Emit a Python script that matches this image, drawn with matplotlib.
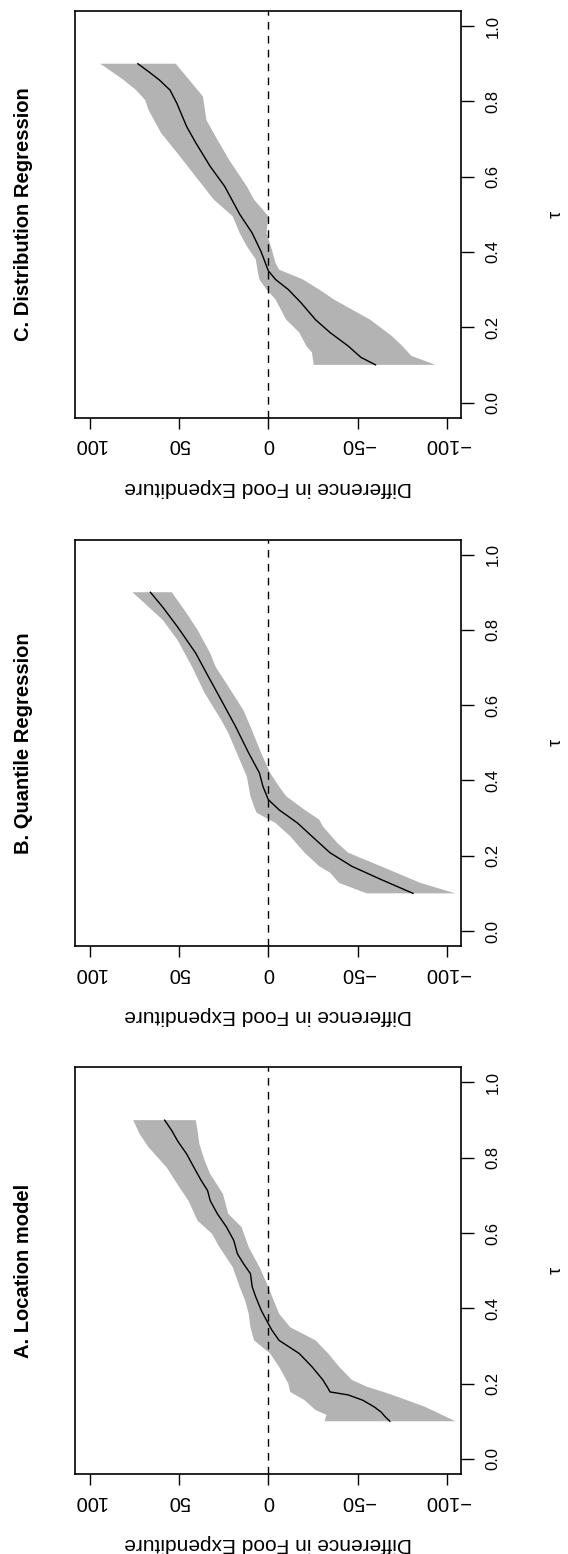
import numpy as np
import matplotlib
matplotlib.use('Agg')
import matplotlib.pyplot as plt

plt.rcParams['font.family'] = ['Liberation Sans', 'DejaVu Sans']

# quantile grid and estimates (difference in food expenditure)
A_tau_mid = [0.100, 0.112, 0.125, 0.139, 0.156, 0.170, 0.178, 0.187, 0.210, 0.245, 0.280,
             0.315, 0.342, 0.368, 0.395, 0.430, 0.457, 0.492, 0.518, 0.545, 0.580, 0.616,
             0.651, 0.686, 0.713, 0.740, 0.775, 0.810, 0.845, 0.872, 0.900]
A_mid = [-68, -65.4, -63, -59, -52.8, -44.7, -34.5, -33.5, -30.5, -24.4, -17.3,
         -6, -2, 1, 4, 7, 9, 10, 13.8, 17.3, 19.3, 23.4,
         28.5, 32.5, 34, 37.6, 41.7, 45.7, 50.8, 54, 58]
A_tau_hi = [0.100, 0.117, 0.130, 0.156, 0.178, 0.200, 0.245, 0.280, 0.315, 0.350, 0.386,
            0.421, 0.457, 0.510, 0.563, 0.598, 0.633, 0.686, 0.722, 0.775, 0.828, 0.863, 0.900]
A_hi = [-31.5, -32.5, -26.4, -20.3, -12.2, -11.2, -6, -1, 8, 10, 11,
        13, 16, 20, 27.4, 31.5, 39.6, 44.7, 49.8, 57, 67, 72, 75.6]
A_tau_lo = [0.100, 0.139, 0.174, 0.192, 0.210, 0.245, 0.280, 0.315, 0.350, 0.386, 0.421,
            0.457, 0.510, 0.563, 0.616, 0.651, 0.704, 0.757, 0.792, 0.837, 0.872, 0.900]
A_lo = [-104.7, -87.4, -67, -55, -46.7, -39.6, -33.5, -26.4, -12.2, -6, -3,
        0, 5, 11, 15, 22.4, 25.4, 32.5, 35.6, 38.6, 39.6, 40.6]

B_tau_mid = [0.100, 0.137, 0.172, 0.208, 0.243, 0.287, 0.322, 0.349, 0.384, 0.420, 0.473,
             0.543, 0.614, 0.685, 0.738, 0.808, 0.860, 0.900]
B_mid = [-81, -63, -46.7, -34.5, -26.4, -16.3, -6, 0, 3, 5, 11,
         18.3, 26.4, 34.6, 40.6, 50.8, 59, 66]
B_tau_hi = [0.100, 0.128, 0.155, 0.172, 0.208, 0.252, 0.287, 0.314, 0.331, 0.358, 0.384,
            0.410, 0.455, 0.526, 0.561, 0.632, 0.702, 0.773, 0.826, 0.861, 0.900]
B_hi = [-55, -39.6, -34.5, -28.5, -20.3, -12.2, -4, 6.5, 8, 10, 11,
        12, 16, 22.4, 26.4, 35.6, 42.7, 50.8, 59, 67, 76]
B_tau_lo = [0.100, 0.128, 0.172, 0.208, 0.234, 0.278, 0.296, 0.322, 0.358, 0.384, 0.420,
            0.473, 0.543, 0.587, 0.650, 0.702, 0.738, 0.800, 0.844, 0.900]
B_lo = [-104.7, -85, -63, -44.7, -38.6, -30.5, -28.5, -20.3, -10, -6, -1,
        4, 10, 14, 22.4, 29.5, 32.5, 39.6, 45.7, 54]

C_tau_mid = [0.100, 0.120, 0.150, 0.186, 0.220, 0.265, 0.300, 0.327, 0.350, 0.400, 0.450,
             0.500, 0.574, 0.627, 0.690, 0.733, 0.795, 0.830, 0.857, 0.879, 0.900]
C_mid = [-60, -51.8, -44.7, -34.5, -26.4, -18.3, -11.2, -4, 0, 4, 9,
         16, 24.4, 32.5, 40.6, 45.7, 51.2, 55, 61, 67, 73]
C_tau_hi = [0.100, 0.133, 0.150, 0.186, 0.220, 0.274, 0.300, 0.327, 0.350, 0.380, 0.415,
            0.450, 0.495, 0.539, 0.600, 0.662, 0.716, 0.777, 0.804, 0.830, 0.857, 0.900]
C_hi = [-25.4, -24.4, -21.3, -17.3, -10, -4, 1, 5, 6, 7, 12,
        16, 20, 30.5, 40.6, 50.8, 60, 67, 69, 74, 81, 94]
C_tau_lo = [0.100, 0.124, 0.150, 0.177, 0.220, 0.247, 0.274, 0.300, 0.327, 0.353, 0.371,
            0.406, 0.450, 0.495, 0.539, 0.574, 0.645, 0.698, 0.750, 0.813, 0.848, 0.900]
C_lo = [-93.5, -80, -75, -69, -57, -46.7, -36.6, -28.5, -19.3, -6, -4,
        -2, 1, 0, 8, 12, 22, 28.5, 34.6, 36.6, 42.7, 51.8]

titles = ['A. Location model', 'B. Quantile Regression', 'C. Distribution Regression']
diff_ticks = [100, 50, 0, -50, -100]
diff_labels = ['100', '50', '0', '\u221250', '\u2212100']
tau_ticks = [0.0, 0.2, 0.4, 0.6, 0.8, 1.0]
tau_labels = ['0.0', '0.2', '0.4', '0.6', '0.8', '1.0']

panels = [
    (titles[0], A_tau_mid, A_mid, A_tau_hi, A_hi, A_tau_lo, A_lo, 0.0515),
    (titles[1], B_tau_mid, B_mid, B_tau_hi, B_hi, B_tau_lo, B_lo, 0.3912),
    (titles[2], C_tau_mid, C_mid, C_tau_hi, C_hi, C_tau_lo, C_lo, 0.7313),
]

fig = plt.figure(figsize=(5.68, 15.54), dpi=100)

for title, t_mid, mid, t_hi, hi, t_lo, lo, bottom in panels:
    ax = fig.add_axes([0.1326, bottom, 0.6796, 0.2616])

    # confidence band as one polygon: upper edge up, lower edge back down
    band_x = np.concatenate([hi, lo[::-1]])
    band_y = np.concatenate([t_hi, t_lo[::-1]])
    ax.fill(band_x, band_y, color='#b3b3b3', lw=0)
    ax.plot(mid, t_mid, color='black', lw=1.0)
    ax.axvline(0, color='black', lw=1.0, ls=(0, (5.5, 4.5)))

    ax.set_xlim(108, -108)
    ax.set_ylim(-0.04, 1.04)

    ax.set_xticks(diff_ticks)
    ax.set_xticklabels(diff_labels, rotation=180)
    ax.yaxis.tick_right()
    ax.set_yticks(tau_ticks)
    ax.set_yticklabels(tau_labels, rotation=90, va='center')
    ax.tick_params(axis='x', length=7.7, width=1.0, pad=5, labelsize=14.5)
    ax.tick_params(axis='y', length=9.4, width=1.0, pad=8, labelsize=12)
    for s in ax.spines.values():
        s.set_linewidth(1.2)

    ax.text(-0.1355, 0.5, title, transform=ax.transAxes, rotation=90,
            ha='center', va='center', fontsize=14.5, fontweight='bold')
    ax.text(0.5, -0.171, 'Difference in Food Expenditure', transform=ax.transAxes,
            rotation=180, ha='center', va='center', fontsize=15)
    ax.text(1.245, 0.5, '\u03c4', transform=ax.transAxes, rotation=90,
            ha='center', va='center', fontsize=13)

fig.savefig('out.png', dpi=100)
